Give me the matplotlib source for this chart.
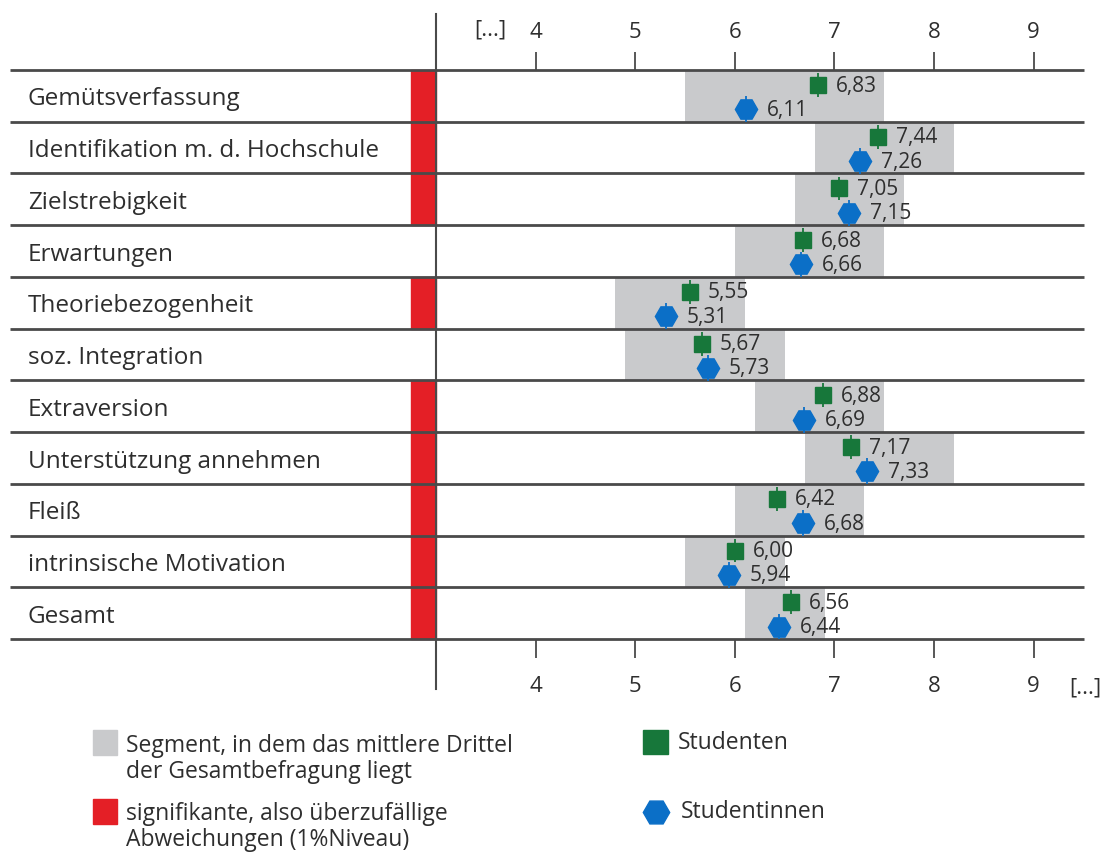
import numpy as np
import matplotlib
matplotlib.use("Agg")
import matplotlib.pyplot as plt
from matplotlib.patches import Rectangle

# ---------------------------------------------------
# Data
# ---------------------------------------------------

rows = [
    "Gemütsverfassung",
    "Identifikation m. d. Hochschule",
    "Zielstrebigkeit",
    "Erwartungen",
    "Theoriebezogenheit",
    "soz. Integration",
    "Extraversion",
    "Unterstützung annehmen",
    "Fleiß",
    "intrinsische Motivation",
    "Gesamt",
]

studenten = [6.83, 7.44, 7.05, 6.68, 5.55, 5.67, 6.88, 7.17, 6.42, 6.00, 6.56]
studentinnen = [6.11, 7.26, 7.15, 6.66, 5.31, 5.73, 6.69, 7.33, 6.68, 5.94, 6.44]

# middle third of the whole survey (grey segment)
seg_low = [5.5, 6.8, 6.6, 6.0, 4.8, 4.9, 6.2, 6.7, 6.0, 5.5, 6.1]
seg_high = [7.5, 8.2, 7.7, 7.5, 6.1, 6.5, 7.5, 8.2, 7.3, 6.5, 6.9]

# significant difference (1% level)
significant = [True, True, True, False, True, False, True, True, True, True, True]

ticks = [4, 5, 6, 7, 8, 9]

# ---------------------------------------------------
# Style
# ---------------------------------------------------

plt.rcParams["font.family"] = ["Open Sans", "DejaVu Sans"]

col_grey = "#c9cacc"
col_red = "#e41f26"
col_green = "#17773a"
col_blue = "#0b6fc7"
col_line = "#4a4a4a"
col_text = "#2e2e2e"

W, H = 1107, 854

fig = plt.figure(figsize=(W / 100, H / 100), dpi=100)
fig.patch.set_facecolor("white")

# main axes: x from 3.0 to 9.5, one row per category
ax_left, ax_right = 436, 1083.5
ax_top, ax_bot = 71, 640
ax = fig.add_axes([
    ax_left / W,
    1 - ax_bot / H,
    (ax_right - ax_left) / W,
    (ax_bot - ax_top) / H,
])
ax.set_xlim(3.0, 9.5)
ax.set_ylim(len(rows), 0)
for s in ax.spines.values():
    s.set_visible(False)

n = len(rows)
ypos = np.arange(n)
ax_w = ax_right - ax_left
ax_h = ax_bot - ax_top

# grey segments
ax.barh(
    ypos + 0.5,
    np.array(seg_high) - np.array(seg_low),
    left=seg_low,
    height=1.0,
    color=col_grey,
    zorder=1,
)

# red significance bars (left of the axis)
ytrans = ax.get_yaxis_transform()
for i, sig in enumerate(significant):
    if sig:
        ax.add_patch(Rectangle(
            (-25 / ax_w, i), 25 / ax_w, 1,
            transform=ytrans, color=col_red, clip_on=False, zorder=2,
        ))

# row separators
for y in range(n + 1):
    ax.plot(
        [(10 - ax_left) / ax_w, 1], [y, y],
        transform=ytrans, color=col_line, lw=2.0,
        clip_on=False, zorder=3, solid_capstyle="butt",
    )

# vertical axis line
ax.plot(
    [0, 0],
    [(ax_bot - 690) / ax_h, (ax_bot - 15) / ax_h],
    transform=ax.transAxes, color=col_line, lw=1.5, clip_on=False, zorder=3,
)

# row labels
for i, name in enumerate(rows):
    ax.text(
        (28 - ax_left) / ax_w, i + 0.55, name,
        transform=ytrans, ha="left", va="center",
        fontsize=17.5, color=col_text,
    )

# markers
y_m = ypos + 0.29
y_f = ypos + 0.76

ax.errorbar(
    studenten, y_m, yerr=0.23, fmt="s", color=col_green,
    markersize=11, elinewidth=1.3, capsize=0, zorder=5,
)
ax.errorbar(
    studentinnen, y_f, yerr=0.25, fmt="H", color=col_blue,
    markersize=16, elinewidth=1.3, capsize=0, zorder=5,
)

for v, y in zip(studenten, y_m):
    ax.annotate(
        f"{v:.2f}".replace(".", ","), (v, y),
        xytext=(13, 0), textcoords="offset points",
        ha="left", va="center", fontsize=15, color=col_text, zorder=6,
    )
for v, y in zip(studentinnen, y_f):
    ax.annotate(
        f"{v:.2f}".replace(".", ","), (v, y),
        xytext=(15, 0), textcoords="offset points",
        ha="left", va="center", fontsize=15, color=col_text, zorder=6,
    )

# bottom ticks
ax.set_xticks(ticks)
ax.set_xticklabels([str(t) for t in ticks])
ax.set_yticks([])
ax.tick_params(
    axis="x", bottom=True, top=False, labelbottom=True, labeltop=False,
    direction="out", length=14, width=1.3, color=col_line,
    labelsize=16, labelcolor=col_text, pad=12,
)

# top ticks
sec = ax.secondary_xaxis("top")
sec.set_xticks(ticks)
sec.set_xticklabels([str(t) for t in ticks])
sec.spines["top"].set_visible(False)
sec.tick_params(
    axis="x", direction="out", length=13, width=1.3, color=col_line,
    labelsize=16, labelcolor=col_text, pad=7,
)

ax.text(3.55, 1 + (ax_top - 30) / ax_h, "[...]",
        transform=ax.get_xaxis_transform(), ha="center", va="center",
        fontsize=16, color=col_text)
ax.text(9.52, -(688 - ax_bot) / ax_h, "[...]",
        transform=ax.get_xaxis_transform(), ha="center", va="center",
        fontsize=16, color=col_text, clip_on=False)

# ---------------------------------------------------
# Legend (pixel-space overlay)
# ---------------------------------------------------

lay = fig.add_axes([0, 0, 1, 1])
lay.set_xlim(0, W)
lay.set_ylim(H, 0)
lay.axis("off")

lay.add_patch(Rectangle((93, 731), 24, 25, color=col_grey))
lay.add_patch(Rectangle((93, 800), 24, 25, color=col_red))
lay.add_patch(Rectangle((643, 731), 25, 24, color=col_green))
lay.plot([655.5], [813], marker="H", markersize=19, color=col_blue)

lay.text(126, 759, "Segment, in dem das mittlere Drittel\nder Gesamtbefragung liegt",
         ha="left", va="center", fontsize=16.5, color=col_text, linespacing=1.15)
lay.text(126, 827, "signifikante, also überzufällige\nAbweichungen (1%Niveau)",
         ha="left", va="center", fontsize=16.5, color=col_text, linespacing=1.15)
lay.text(678, 743, "Studenten", ha="left", va="center", fontsize=16.5, color=col_text)
lay.text(681, 812, "Studentinnen", ha="left", va="center", fontsize=16.5, color=col_text)

fig.savefig("out.png", dpi=100, facecolor="white")
